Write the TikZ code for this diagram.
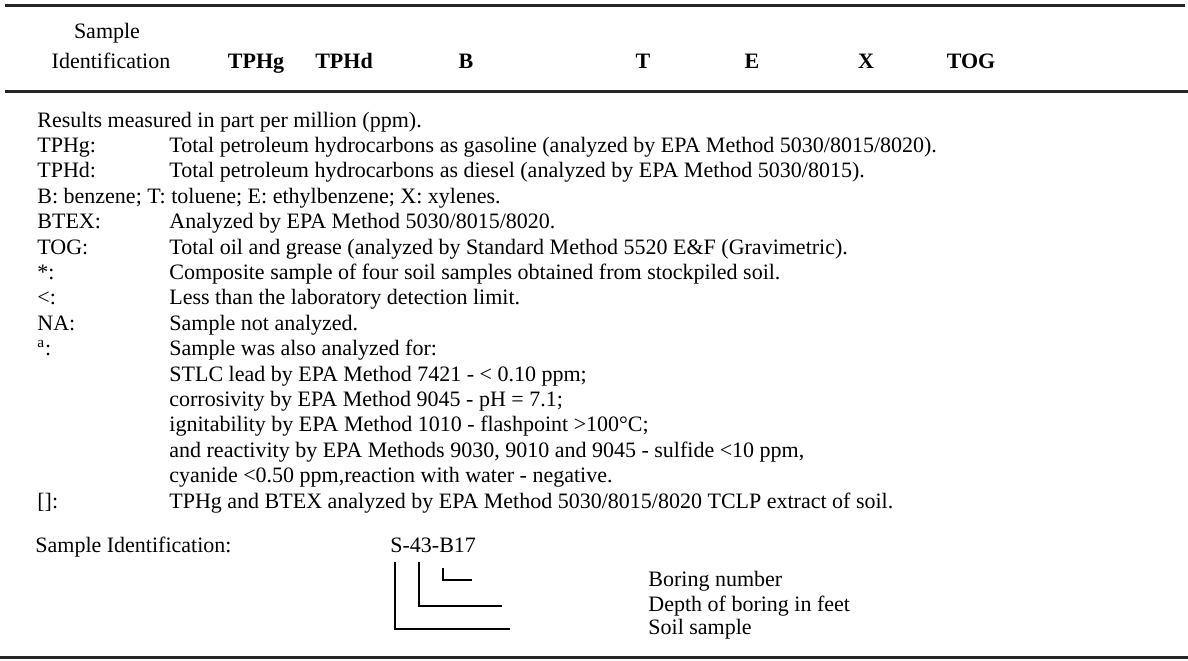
\documentclass[tikz,border=0pt]{standalone}
\usepackage{fontspec}
\setmainfont{Liberation Serif}
\usepackage{tikz}

\begin{document}
\begin{tikzpicture}[
        x=0.5pt, y=-0.5pt,
        every node/.style={font=\fontsize{11}{13}\selectfont, inner sep=0pt},
        head/.style={anchor=base, font=\fontsize{11}{13}\selectfont\bfseries},
        headid/.style={anchor=base},
        key/.style={anchor=base west},
        desc/.style={anchor=base west},
        rule/.style={line width=1.5pt, black!85},
        tick/.style={line width=0.75pt},
      ]
      \useasboundingbox (0,0) rectangle (1188,660);

      % table rules
      \draw[rule] (5,5) -- (1185,5);
      \draw[rule] (5,91) -- (1188,91);
      \draw[rule] (0,657) -- (1188,657);

      % column heads
      \node[headid] (hsample) at (107,38) {Sample};
      \node[headid] (hident)  at (111,68) {Identification};
      \node[head] (htphg) at (256,68) {TPHg};
      \node[head] (htphd) at (344,68) {TPHd};
      \node[head] (hb)    at (466,68) {B};
      \node[head] (ht)    at (643,68) {T};
      \node[head] (he)    at (752,68) {E};
      \node[head] (hx)    at (866,68) {X};
      \node[head] (htog)  at (971,68) {TOG};

      % notes
      \node[key] (nres) at (37,127) {Results measured in part per million (ppm).};
      \node[key]  (ktphg) at (37,152.4)  {TPHg:};
      \node[desc] (dtphg) at (169,152.4) {Total petroleum hydrocarbons as gasoline (analyzed by EPA Method 5030/8015/8020).};
      \node[key]  (ktphd) at (37,177.8)  {TPHd:};
      \node[desc] (dtphd) at (169,177.8) {Total petroleum hydrocarbons as diesel (analyzed by EPA Method 5030/8015).};
      \node[key]  (nbtex) at (37,203.2)  {B: benzene; T: toluene; E: ethylbenzene; X: xylenes.};
      \node[key]  (kbtex) at (37,228.6)  {BTEX:};
      \node[desc] (dbtex) at (169,228.6) {Analyzed by EPA Method 5030/8015/8020.};
      \node[key]  (ktog) at (37,254)     {TOG:};
      \node[desc] (dtog) at (169,254)    {Total oil and grease (analyzed by Standard Method 5520 E\&F (Gravimetric).};
      \node[key]  (kcomp) at (37,279.4)  {*:};
      \node[desc] (dcomp) at (169,279.4) {Composite sample of four soil samples obtained from stockpiled soil.};
      \node[key]  (kless) at (37,304.8)  {<:};
      \node[desc] (dless) at (169,304.8) {Less than the laboratory detection limit.};
      \node[key]  (kna) at (37,330.2)    {NA:};
      \node[desc] (dna) at (169,330.2)   {Sample not analyzed.};
      \node[key]  (kalso) at (37,355.6)  {\textsuperscript{a}:};
      \node[desc] (dalso) at (169,355.6) {Sample was also analyzed for:};
      \node[desc] (dstlc) at (169,381)   {STLC lead by EPA Method 7421 - < 0.10 ppm;};
      \node[desc] (dcorr) at (169,406.4) {corrosivity by EPA Method 9045 - pH = 7.1;};
      \node[desc] (digni) at (169,431.8) {ignitability by EPA Method 1010 - flashpoint >100°C;};
      \node[desc] (dreac) at (169,457.2) {and reactivity by EPA Methods 9030, 9010 and 9045 - sulfide <10 ppm,};
      \node[desc] (dcyan) at (169,482.6) {cyanide <0.50 ppm,reaction with water - negative.};
      \node[key]  (ktclp) at (37,508)    {[]:};
      \node[desc] (dtclp) at (169,508)   {TPHg and BTEX analyzed by EPA Method 5030/8015/8020 TCLP extract of soil.};

      % sample id key
      \node[key] (kid) at (35,552) {Sample Identification:};
      \node[key] (sid) at (390,552) {S-43-B17};
      \node[key] (lboring) at (648,586) {Boring number};
      \node[key] (ldepth)  at (648,611) {Depth of boring in feet};
      \node[key] (lsoil)   at (648,634) {Soil sample};

      \coordinate (soiltop)   at (395,562);
      \coordinate (soilend)   at (510,629);
      \coordinate (depthtop)  at (419,562);
      \coordinate (depthend)  at (502,606);
      \coordinate (boringtop) at (443,568);
      \coordinate (boringend) at (472,580);

      \draw[tick] (soiltop)   |- (soilend);
      \draw[tick] (depthtop)  |- (depthend);
      \draw[tick] (boringtop) |- (boringend);
    \end{tikzpicture}
\end{document}
